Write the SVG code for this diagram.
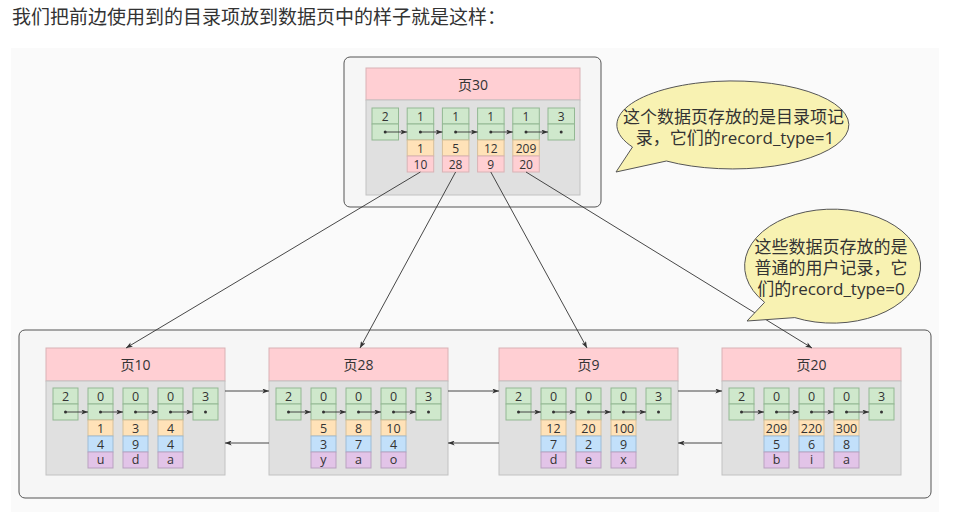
<svg xmlns="http://www.w3.org/2000/svg" width="964" height="512" viewBox="0 0 964 512">
<defs>
<style>
text{font-family:"Open Sans","Noto Sans CJK SC",sans-serif;fill:#333;text-anchor:middle}
.t{font-size:12.5px}
.tt{font-size:12px}
.h{font-size:14px}
.c{font-size:17px}
.hd{fill:#ffcfd3;stroke:#d9b2b5;stroke-width:1}
.bd{fill:#e0e0e0;stroke:#c2c2c2;stroke-width:1}
.g{fill:#cfe8cc;stroke:#93b893;stroke-width:1}
.o{fill:#ffe2b8;stroke:#d6bf9a;stroke-width:1}
.p{fill:#ffcfd3;stroke:#d9b2b5;stroke-width:1}
.b{fill:#c2e0fa;stroke:#9dbcd6;stroke-width:1}
.u{fill:#e2c4e8;stroke:#b9a1c0;stroke-width:1}
.box{fill:#f6f6f6;stroke:#555;stroke-width:1}
.ln{stroke:#333;stroke-width:0.9;fill:none}
.dt{fill:#333}
.call{fill:#f8f2b2;stroke:#555;stroke-width:1}
</style>
<marker id="ah" viewBox="0 0 8 6" refX="8" refY="3" markerWidth="7" markerHeight="5" orient="auto" markerUnits="userSpaceOnUse"><path d="M0,0 L8,3 L0,6 L2,3 Z" fill="#333"/></marker>
</defs>
<rect x="0" y="0" width="964" height="512" fill="#fff"/>
<rect x="11" y="48" width="928" height="464" fill="#fafafa"/>
<text x="12" y="24" style="font-size:19px;text-anchor:start;fill:#333">我们把前边使用到的目录项放到数据页中的样子就是这样：</text>

<rect class="box" x="344" y="57" width="257" height="150" rx="6"/>
<rect class="box" x="19" y="330" width="912" height="168" rx="6"/>

<g id="page30">
<rect class="hd" x="366" y="68" width="214" height="32"/>
<rect class="bd" x="366" y="100" width="214" height="95"/>
<text class="h" x="473" y="90">页30</text>
<rect class="g" x="372" y="108" width="26.5" height="16"/><rect class="g" x="372" y="124" width="26.5" height="16"/>
<rect class="g" x="407.2" y="108" width="26.5" height="16"/><rect class="g" x="407.2" y="124" width="26.5" height="16"/>
<rect class="g" x="442.4" y="108" width="26.5" height="16"/><rect class="g" x="442.4" y="124" width="26.5" height="16"/>
<rect class="g" x="477.6" y="108" width="26.5" height="16"/><rect class="g" x="477.6" y="124" width="26.5" height="16"/>
<rect class="g" x="512.8" y="108" width="26.5" height="16"/><rect class="g" x="512.8" y="124" width="26.5" height="16"/>
<rect class="g" x="548" y="108" width="26.5" height="16"/><rect class="g" x="548" y="124" width="26.5" height="16"/>
<rect class="o" x="407.2" y="140" width="26.5" height="16"/><rect class="p" x="407.2" y="156" width="26.5" height="16"/>
<rect class="o" x="442.4" y="140" width="26.5" height="16"/><rect class="p" x="442.4" y="156" width="26.5" height="16"/>
<rect class="o" x="477.6" y="140" width="26.5" height="16"/><rect class="p" x="477.6" y="156" width="26.5" height="16"/>
<rect class="o" x="512.8" y="140" width="26.5" height="16"/><rect class="p" x="512.8" y="156" width="26.5" height="16"/>
<text class="tt" x="385.2" y="120.5">2</text><text class="tt" x="420.4" y="120.5">1</text><text class="tt" x="455.6" y="120.5">1</text><text class="tt" x="490.8" y="120.5">1</text><text class="tt" x="526" y="120.5">1</text><text class="tt" x="561.2" y="120.5">3</text>
<text class="tt" x="420.4" y="152.5">1</text><text class="tt" x="455.6" y="152.5">5</text><text class="tt" x="490.8" y="152.5">12</text><text class="tt" x="526" y="152.5">209</text>
<text class="tt" x="420.4" y="168.5">10</text><text class="tt" x="455.6" y="168.5">28</text><text class="tt" x="490.8" y="168.5">9</text><text class="tt" x="526" y="168.5">20</text>
<circle class="dt" cx="385.2" cy="132" r="1.5"/><circle class="dt" cx="420.4" cy="132" r="1.5"/><circle class="dt" cx="455.6" cy="132" r="1.5"/><circle class="dt" cx="490.8" cy="132" r="1.5"/><circle class="dt" cx="526" cy="132" r="1.5"/><circle class="dt" cx="561.2" cy="132" r="1.5"/>
<path class="ln" marker-end="url(#ah)" d="M385.2,132H407.2"/>
<path class="ln" marker-end="url(#ah)" d="M420.4,132H442.4"/>
<path class="ln" marker-end="url(#ah)" d="M455.6,132H477.6"/>
<path class="ln" marker-end="url(#ah)" d="M490.8,132H512.8"/>
<path class="ln" marker-end="url(#ah)" d="M526,132H548"/>
</g>

<g id="page10">
<rect class="hd" x="46" y="348" width="179" height="33"/>
<rect class="bd" x="46" y="381" width="179" height="94"/>
<text class="h" x="135.5" y="370">页10</text>
<rect class="g" x="53" y="388" width="25" height="16"/><rect class="g" x="53" y="404" width="25" height="16"/>
<rect class="g" x="88" y="388" width="25" height="16"/><rect class="g" x="88" y="404" width="25" height="16"/>
<rect class="g" x="123" y="388" width="25" height="16"/><rect class="g" x="123" y="404" width="25" height="16"/>
<rect class="g" x="158" y="388" width="25" height="16"/><rect class="g" x="158" y="404" width="25" height="16"/>
<rect class="g" x="193" y="388" width="25" height="16"/><rect class="g" x="193" y="404" width="25" height="16"/>
<rect class="o" x="88" y="420" width="25" height="16"/><rect class="b" x="88" y="436" width="25" height="16"/><rect class="u" x="88" y="452" width="25" height="16"/>
<rect class="o" x="123" y="420" width="25" height="16"/><rect class="b" x="123" y="436" width="25" height="16"/><rect class="u" x="123" y="452" width="25" height="16"/>
<rect class="o" x="158" y="420" width="25" height="16"/><rect class="b" x="158" y="436" width="25" height="16"/><rect class="u" x="158" y="452" width="25" height="16"/>
<text class="t" x="65.5" y="400.5">2</text><text class="t" x="100.5" y="400.5">0</text><text class="t" x="135.5" y="400.5">0</text><text class="t" x="170.5" y="400.5">0</text><text class="t" x="205.5" y="400.5">3</text>
<text class="t" x="100.5" y="432.5">1</text><text class="t" x="135.5" y="432.5">3</text><text class="t" x="170.5" y="432.5">4</text>
<text class="t" x="100.5" y="448.5">4</text><text class="t" x="135.5" y="448.5">9</text><text class="t" x="170.5" y="448.5">4</text>
<text class="t" x="100.5" y="464">u</text><text class="t" x="135.5" y="464">d</text><text class="t" x="170.5" y="464">a</text>
<circle class="dt" cx="65.5" cy="412" r="1.5"/><circle class="dt" cx="100.5" cy="412" r="1.5"/><circle class="dt" cx="135.5" cy="412" r="1.5"/><circle class="dt" cx="170.5" cy="412" r="1.5"/><circle class="dt" cx="205.5" cy="412" r="1.5"/>
<path class="ln" marker-end="url(#ah)" d="M65.5,412H88"/><path class="ln" marker-end="url(#ah)" d="M100.5,412H123"/><path class="ln" marker-end="url(#ah)" d="M135.5,412H158"/><path class="ln" marker-end="url(#ah)" d="M170.5,412H193"/>
</g>

<g id="page28">
<rect class="hd" x="269" y="348" width="179" height="33"/>
<rect class="bd" x="269" y="381" width="179" height="94"/>
<text class="h" x="358.5" y="370">页28</text>
<rect class="g" x="276" y="388" width="25" height="16"/><rect class="g" x="276" y="404" width="25" height="16"/>
<rect class="g" x="311" y="388" width="25" height="16"/><rect class="g" x="311" y="404" width="25" height="16"/>
<rect class="g" x="346" y="388" width="25" height="16"/><rect class="g" x="346" y="404" width="25" height="16"/>
<rect class="g" x="381" y="388" width="25" height="16"/><rect class="g" x="381" y="404" width="25" height="16"/>
<rect class="g" x="416" y="388" width="25" height="16"/><rect class="g" x="416" y="404" width="25" height="16"/>
<rect class="o" x="311" y="420" width="25" height="16"/><rect class="b" x="311" y="436" width="25" height="16"/><rect class="u" x="311" y="452" width="25" height="16"/>
<rect class="o" x="346" y="420" width="25" height="16"/><rect class="b" x="346" y="436" width="25" height="16"/><rect class="u" x="346" y="452" width="25" height="16"/>
<rect class="o" x="381" y="420" width="25" height="16"/><rect class="b" x="381" y="436" width="25" height="16"/><rect class="u" x="381" y="452" width="25" height="16"/>
<text class="t" x="288.5" y="400.5">2</text><text class="t" x="323.5" y="400.5">0</text><text class="t" x="358.5" y="400.5">0</text><text class="t" x="393.5" y="400.5">0</text><text class="t" x="428.5" y="400.5">3</text>
<text class="t" x="323.5" y="432.5">5</text><text class="t" x="358.5" y="432.5">8</text><text class="t" x="393.5" y="432.5">10</text>
<text class="t" x="323.5" y="448.5">3</text><text class="t" x="358.5" y="448.5">7</text><text class="t" x="393.5" y="448.5">4</text>
<text class="t" x="323.5" y="464">y</text><text class="t" x="358.5" y="464">a</text><text class="t" x="393.5" y="464">o</text>
<circle class="dt" cx="288.5" cy="412" r="1.5"/><circle class="dt" cx="323.5" cy="412" r="1.5"/><circle class="dt" cx="358.5" cy="412" r="1.5"/><circle class="dt" cx="393.5" cy="412" r="1.5"/><circle class="dt" cx="428.5" cy="412" r="1.5"/>
<path class="ln" marker-end="url(#ah)" d="M288.5,412H311"/><path class="ln" marker-end="url(#ah)" d="M323.5,412H346"/><path class="ln" marker-end="url(#ah)" d="M358.5,412H381"/><path class="ln" marker-end="url(#ah)" d="M393.5,412H416"/>
</g>

<g id="page9">
<rect class="hd" x="499" y="348" width="179" height="33"/>
<rect class="bd" x="499" y="381" width="179" height="94"/>
<text class="h" x="588.5" y="370">页9</text>
<rect class="g" x="506" y="388" width="25" height="16"/><rect class="g" x="506" y="404" width="25" height="16"/>
<rect class="g" x="541" y="388" width="25" height="16"/><rect class="g" x="541" y="404" width="25" height="16"/>
<rect class="g" x="576" y="388" width="25" height="16"/><rect class="g" x="576" y="404" width="25" height="16"/>
<rect class="g" x="611" y="388" width="25" height="16"/><rect class="g" x="611" y="404" width="25" height="16"/>
<rect class="g" x="646" y="388" width="25" height="16"/><rect class="g" x="646" y="404" width="25" height="16"/>
<rect class="o" x="541" y="420" width="25" height="16"/><rect class="b" x="541" y="436" width="25" height="16"/><rect class="u" x="541" y="452" width="25" height="16"/>
<rect class="o" x="576" y="420" width="25" height="16"/><rect class="b" x="576" y="436" width="25" height="16"/><rect class="u" x="576" y="452" width="25" height="16"/>
<rect class="o" x="611" y="420" width="25" height="16"/><rect class="b" x="611" y="436" width="25" height="16"/><rect class="u" x="611" y="452" width="25" height="16"/>
<text class="t" x="518.5" y="400.5">2</text><text class="t" x="553.5" y="400.5">0</text><text class="t" x="588.5" y="400.5">0</text><text class="t" x="623.5" y="400.5">0</text><text class="t" x="658.5" y="400.5">3</text>
<text class="t" x="553.5" y="432.5">12</text><text class="t" x="588.5" y="432.5">20</text><text class="t" x="623.5" y="432.5">100</text>
<text class="t" x="553.5" y="448.5">7</text><text class="t" x="588.5" y="448.5">2</text><text class="t" x="623.5" y="448.5">9</text>
<text class="t" x="553.5" y="464">d</text><text class="t" x="588.5" y="464">e</text><text class="t" x="623.5" y="464">x</text>
<circle class="dt" cx="518.5" cy="412" r="1.5"/><circle class="dt" cx="553.5" cy="412" r="1.5"/><circle class="dt" cx="588.5" cy="412" r="1.5"/><circle class="dt" cx="623.5" cy="412" r="1.5"/><circle class="dt" cx="658.5" cy="412" r="1.5"/>
<path class="ln" marker-end="url(#ah)" d="M518.5,412H541"/><path class="ln" marker-end="url(#ah)" d="M553.5,412H576"/><path class="ln" marker-end="url(#ah)" d="M588.5,412H611"/><path class="ln" marker-end="url(#ah)" d="M623.5,412H646"/>
</g>

<g id="page20">
<rect class="hd" x="722" y="348" width="179" height="33"/>
<rect class="bd" x="722" y="381" width="179" height="94"/>
<text class="h" x="811.5" y="370">页20</text>
<rect class="g" x="729" y="388" width="25" height="16"/><rect class="g" x="729" y="404" width="25" height="16"/>
<rect class="g" x="764" y="388" width="25" height="16"/><rect class="g" x="764" y="404" width="25" height="16"/>
<rect class="g" x="799" y="388" width="25" height="16"/><rect class="g" x="799" y="404" width="25" height="16"/>
<rect class="g" x="834" y="388" width="25" height="16"/><rect class="g" x="834" y="404" width="25" height="16"/>
<rect class="g" x="869" y="388" width="25" height="16"/><rect class="g" x="869" y="404" width="25" height="16"/>
<rect class="o" x="764" y="420" width="25" height="16"/><rect class="b" x="764" y="436" width="25" height="16"/><rect class="u" x="764" y="452" width="25" height="16"/>
<rect class="o" x="799" y="420" width="25" height="16"/><rect class="b" x="799" y="436" width="25" height="16"/><rect class="u" x="799" y="452" width="25" height="16"/>
<rect class="o" x="834" y="420" width="25" height="16"/><rect class="b" x="834" y="436" width="25" height="16"/><rect class="u" x="834" y="452" width="25" height="16"/>
<text class="t" x="741.5" y="400.5">2</text><text class="t" x="776.5" y="400.5">0</text><text class="t" x="811.5" y="400.5">0</text><text class="t" x="846.5" y="400.5">0</text><text class="t" x="881.5" y="400.5">3</text>
<text class="t" x="776.5" y="432.5">209</text><text class="t" x="811.5" y="432.5">220</text><text class="t" x="846.5" y="432.5">300</text>
<text class="t" x="776.5" y="448.5">5</text><text class="t" x="811.5" y="448.5">6</text><text class="t" x="846.5" y="448.5">8</text>
<text class="t" x="776.5" y="464">b</text><text class="t" x="811.5" y="464">i</text><text class="t" x="846.5" y="464">a</text>
<circle class="dt" cx="741.5" cy="412" r="1.5"/><circle class="dt" cx="776.5" cy="412" r="1.5"/><circle class="dt" cx="811.5" cy="412" r="1.5"/><circle class="dt" cx="846.5" cy="412" r="1.5"/><circle class="dt" cx="881.5" cy="412" r="1.5"/>
<path class="ln" marker-end="url(#ah)" d="M741.5,412H764"/><path class="ln" marker-end="url(#ah)" d="M776.5,412H799"/><path class="ln" marker-end="url(#ah)" d="M811.5,412H834"/><path class="ln" marker-end="url(#ah)" d="M846.5,412H869"/>
</g>

<g id="connectors">
<path class="ln" marker-end="url(#ah)" d="M420.4,172L126,348"/>
<path class="ln" marker-end="url(#ah)" d="M455.6,172L360,348"/>
<path class="ln" marker-end="url(#ah)" d="M490.8,172L587,348"/>
<path class="ln" marker-end="url(#ah)" d="M526,172L812,348"/>
<path class="ln" marker-end="url(#ah)" d="M225,391H269"/>
<path class="ln" marker-end="url(#ah)" d="M448,391H499"/>
<path class="ln" marker-end="url(#ah)" d="M678,391H722"/>
<path class="ln" marker-end="url(#ah)" d="M269,443H225"/>
<path class="ln" marker-end="url(#ah)" d="M499,443H448"/>
<path class="ln" marker-end="url(#ah)" d="M722,443H678"/>
</g>

<g id="callout1">
<path class="call" d="M666.4,161 L616,172 L632.5,147 A116 44 0 1 1 666.4,161 Z"/>
<text class="c" x="733.5" y="123">这个数据页存放的是目录项记</text>
<text class="c" x="735" y="144">录，它们的record_type=1</text>
</g>

<g id="callout2">
<path class="call" d="M794.8,317.6 L747,321 L764.6,302.3 A88 57 0 1 1 794.8,317.6 Z"/>
<text class="c" x="831" y="253">这些数据页存放的是</text>
<text class="c" x="831" y="274">普通的用户记录，它</text>
<text class="c" x="831" y="295">们的record_type=0</text>
</g>
</svg>
